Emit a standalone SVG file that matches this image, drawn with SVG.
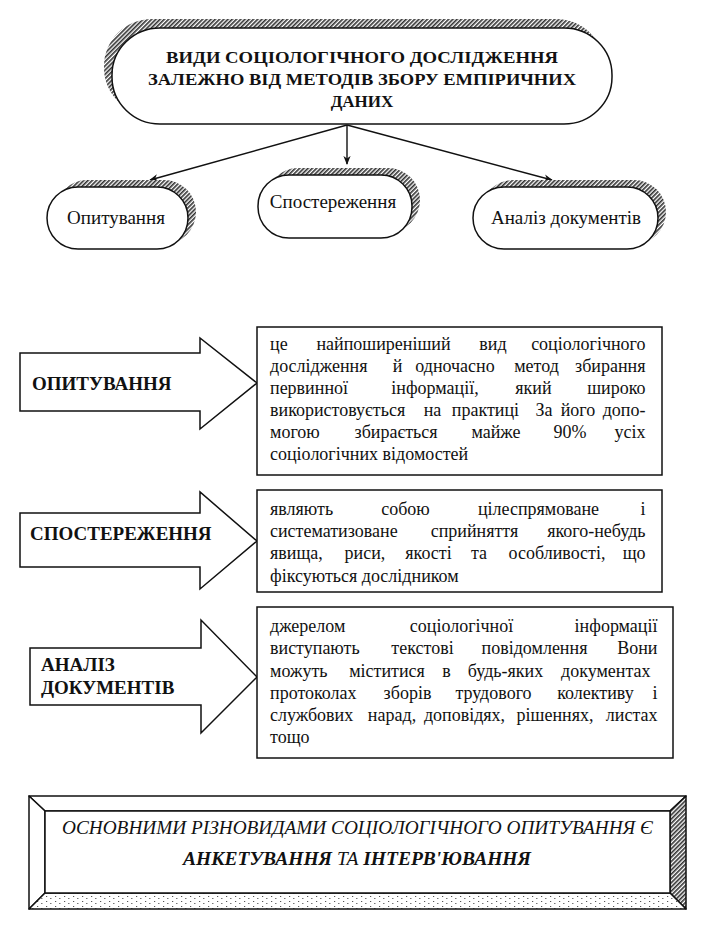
<svg xmlns="http://www.w3.org/2000/svg" width="717" height="938" viewBox="0 0 717 938" font-family="'Liberation Serif', 'DejaVu Serif', serif">
<defs>
<pattern id="hatch" width="3" height="3" patternUnits="userSpaceOnUse" patternTransform="rotate(45)"><rect width="3" height="3" fill="#fff"/><line x1="0.8" y1="0" x2="0.8" y2="3" stroke="#333" stroke-width="1.7"/></pattern>
<pattern id="speck" width="9" height="5" patternUnits="userSpaceOnUse"><rect width="9" height="5" fill="#fff"/><rect x="1" y="1" width="1.2" height="1" fill="#555"/><rect x="5" y="3" width="1.5" height="1" fill="#777"/></pattern>
<marker id="ah" viewBox="0 0 10 10" refX="9" refY="5" markerWidth="9" markerHeight="9" orient="auto-start-reverse" markerUnits="userSpaceOnUse"><path d="M0,1 L10,5 L0,9 L3,5 Z" fill="#111"/></marker>
<style>
.ln{stroke:#111;stroke-width:1.4;fill:none}
.bx{fill:#fff;stroke:#111;stroke-width:1.5}
.sh{fill:url(#hatch);stroke:none}
.t{font-family:'Liberation Serif','DejaVu Serif',serif;fill:#111}
.title{font-size:17px;font-weight:bold}
.nd{font-size:19px}
.lab{font-size:19px;font-weight:bold}
.body{font-size:18px}
.m{text-anchor:middle}
.e{text-anchor:end}
</style>
</defs>
<rect width="717" height="938" fill="#fff"/>

<g id="top">
<rect class="sh" x="104" y="19" width="500" height="96" rx="48" ry="47"/>
<rect class="bx" x="112" y="28" width="500" height="96" rx="48" ry="47"/>
<text class="t title" text-anchor="middle"><tspan x="362" y="63" textLength="392" lengthAdjust="spacingAndGlyphs">ВИДИ СОЦІОЛОГІЧНОГО ДОСЛІДЖЕННЯ</tspan><tspan x="362" y="85" textLength="428" lengthAdjust="spacingAndGlyphs">ЗАЛЕЖНО ВІД МЕТОДІВ ЗБОРУ ЕМПІРИЧНИХ</tspan><tspan x="362" y="107">ДАНИХ</tspan></text>
</g>

<g id="connectors">
<line class="ln" x1="347" y1="125" x2="150" y2="180" marker-end="url(#ah)"/>
<line class="ln" x1="347" y1="125" x2="347" y2="164" marker-end="url(#ah)"/>
<line class="ln" x1="347" y1="125" x2="552" y2="180" marker-end="url(#ah)"/>
</g>

<g id="n-opytuvannia">
<rect class="sh" x="55" y="180" width="141" height="64" rx="32"/>
<rect class="bx" x="47" y="187" width="141" height="62" rx="31"/>
<text class="t nd m" x="116" y="224">Опитування</text>
</g>
<g id="n-sposterezhennia">
<rect class="sh" x="266" y="168" width="154" height="64" rx="32"/>
<rect class="bx" x="258" y="175" width="154" height="63" rx="31"/>
<text class="t nd m" x="333" y="208">Спостереження</text>
</g>
<g id="n-analiz">
<rect class="sh" x="481" y="180" width="185" height="64" rx="32"/>
<rect class="bx" x="473" y="187" width="185" height="62" rx="31"/>
<text class="t nd m" x="566" y="224">Аналіз документів</text>
</g>

<g id="a-opytuvannia">
<polygon class="bx" points="20,353 200,353 200,338 257,383 200,429 200,411 20,411"/>
<text class="t lab" x="32" y="390">ОПИТУВАННЯ</text>
</g>
<g id="d-opytuvannia">
<rect class="bx" x="257" y="327" width="405" height="148"/>
<text class="t body">
<tspan x="270" y="350">це</tspan><tspan class="m" x="383.5" y="350">найпоширеніший</tspan><tspan class="m" x="493" y="350">вид</tspan><tspan class="e" x="650" y="350">соціологічного</tspan>
<tspan x="270" y="372">дослідження</tspan><tspan class="m" x="397.5" y="372">й</tspan><tspan class="m" x="455" y="372">одночасно</tspan><tspan class="m" x="536.5" y="372">метод</tspan><tspan class="e" x="650" y="372">збирання</tspan>
<tspan x="270" y="394">первинної</tspan><tspan class="m" x="435" y="394">інформації,</tspan><tspan class="m" x="533.5" y="394">який</tspan><tspan class="e" x="650" y="394">широко</tspan>
<tspan x="270" y="416">використовується</tspan><tspan class="m" x="432.5" y="416">на</tspan><tspan class="m" x="485.5" y="416">практиці</tspan><tspan class="m" x="544" y="416">За</tspan><tspan class="m" x="578" y="416">його</tspan><tspan class="e" x="650" y="416">допо-</tspan>
<tspan x="270" y="438">могою</tspan><tspan class="m" x="396" y="438">збирається</tspan><tspan class="m" x="496" y="438">майже</tspan><tspan class="m" x="570" y="438">90%</tspan><tspan class="e" x="650" y="438">усіх</tspan>
<tspan x="270" y="460">соціологічних відомостей</tspan>
</text>
</g>

<g id="a-sposterezhennia">
<polygon class="bx" points="20,513 200,513 200,492 257,541 200,589 200,567 20,567"/>
<text class="t lab" x="30" y="540">СПОСТЕРЕЖЕННЯ</text>
</g>
<g id="d-sposterezhennia">
<rect class="bx" x="257" y="490" width="405" height="102"/>
<text class="t body">
<tspan x="270" y="515">являють</tspan><tspan class="m" x="405.5" y="515">собою</tspan><tspan class="m" x="538.5" y="515">цілеспрямоване</tspan><tspan class="e" x="650" y="515">і</tspan>
<tspan x="270" y="537">систематизоване</tspan><tspan class="m" x="474.5" y="537">сприйняття</tspan><tspan class="e" x="650" y="537">якого-небудь</tspan>
<tspan x="270" y="559">явища,</tspan><tspan class="m" x="365" y="559">риси,</tspan><tspan class="m" x="428.5" y="559">якості</tspan><tspan class="m" x="479" y="559">та</tspan><tspan class="m" x="557" y="559">особливості,</tspan><tspan class="e" x="650" y="559">що</tspan>
<tspan x="270" y="582">фіксуються дослідником</tspan>
</text>
</g>

<g id="a-analiz">
<polygon class="bx" points="30,648 201,648 201,620 257,677 201,733 201,705 30,705"/>
<text class="t lab" x="41" y="671">АНАЛІЗ</text>
<text class="t lab" x="41" y="694">ДОКУМЕНТІВ</text>
</g>
<g id="d-analiz">
<rect class="bx" x="257" y="607" width="416" height="151"/>
<text class="t body">
<tspan x="270" y="632">джерелом</tspan><tspan class="m" x="461.5" y="632">соціологічної</tspan><tspan class="e" x="662" y="632">інформації</tspan>
<tspan x="270" y="654">виступають</tspan><tspan class="m" x="422.5" y="654">текстові</tspan><tspan class="m" x="534.5" y="654">повідомлення</tspan><tspan class="e" x="662" y="654">Вони</tspan>
<tspan x="270" y="677">можуть</tspan><tspan class="m" x="387" y="677">міститися</tspan><tspan class="m" x="446.5" y="677">в</tspan><tspan class="m" x="505.5" y="677">будь-яких</tspan><tspan class="e" x="655" y="677">документах</tspan>
<tspan x="270" y="699">протоколах</tspan><tspan class="m" x="407.5" y="699">зборів</tspan><tspan class="m" x="493.5" y="699">трудового</tspan><tspan class="m" x="595.5" y="699">колективу</tspan><tspan class="e" x="662" y="699">і</tspan>
<tspan x="270" y="721">службових</tspan><tspan class="m" x="392" y="721">нарад,</tspan><tspan class="m" x="464.5" y="721">доповідях,</tspan><tspan class="m" x="555" y="721">рішеннях,</tspan><tspan class="e" x="662" y="721">листах</tspan>
<tspan x="270" y="743">тощо</tspan>
</text>
</g>

<g id="bottom">
<polygon points="29,796 686,796 670,811 45,811" fill="#fff" stroke="#111" stroke-width="1.5" stroke-linejoin="round"/>
<polygon points="29,796 45,811 45,893 29,909" fill="#fff" stroke="#111" stroke-width="1.5" stroke-linejoin="round"/>
<polygon points="686,796 686,909 670,893 670,811" fill="url(#hatch)" stroke="#111" stroke-width="1.5" stroke-linejoin="round"/>
<polygon points="29,909 45,893 670,893 686,909" fill="url(#speck)" stroke="#111" stroke-width="1.5" stroke-linejoin="round"/>
<rect x="45" y="811" width="625" height="82" fill="#fff" stroke="#111" stroke-width="1.5"/>
<text class="t" x="357.5" y="834" text-anchor="middle" font-size="19" font-style="italic" textLength="591" lengthAdjust="spacingAndGlyphs">ОСНОВНИМИ РІЗНОВИДАМИ СОЦІОЛОГІЧНОГО ОПИТУВАННЯ Є</text>
<text class="t" x="357" y="865" text-anchor="middle" font-size="19.5" font-style="italic" font-weight="bold">АНКЕТУВАННЯ <tspan font-weight="normal">ТА</tspan> ІНТЕРВ'ЮВАННЯ</text>
</g>
</svg>
